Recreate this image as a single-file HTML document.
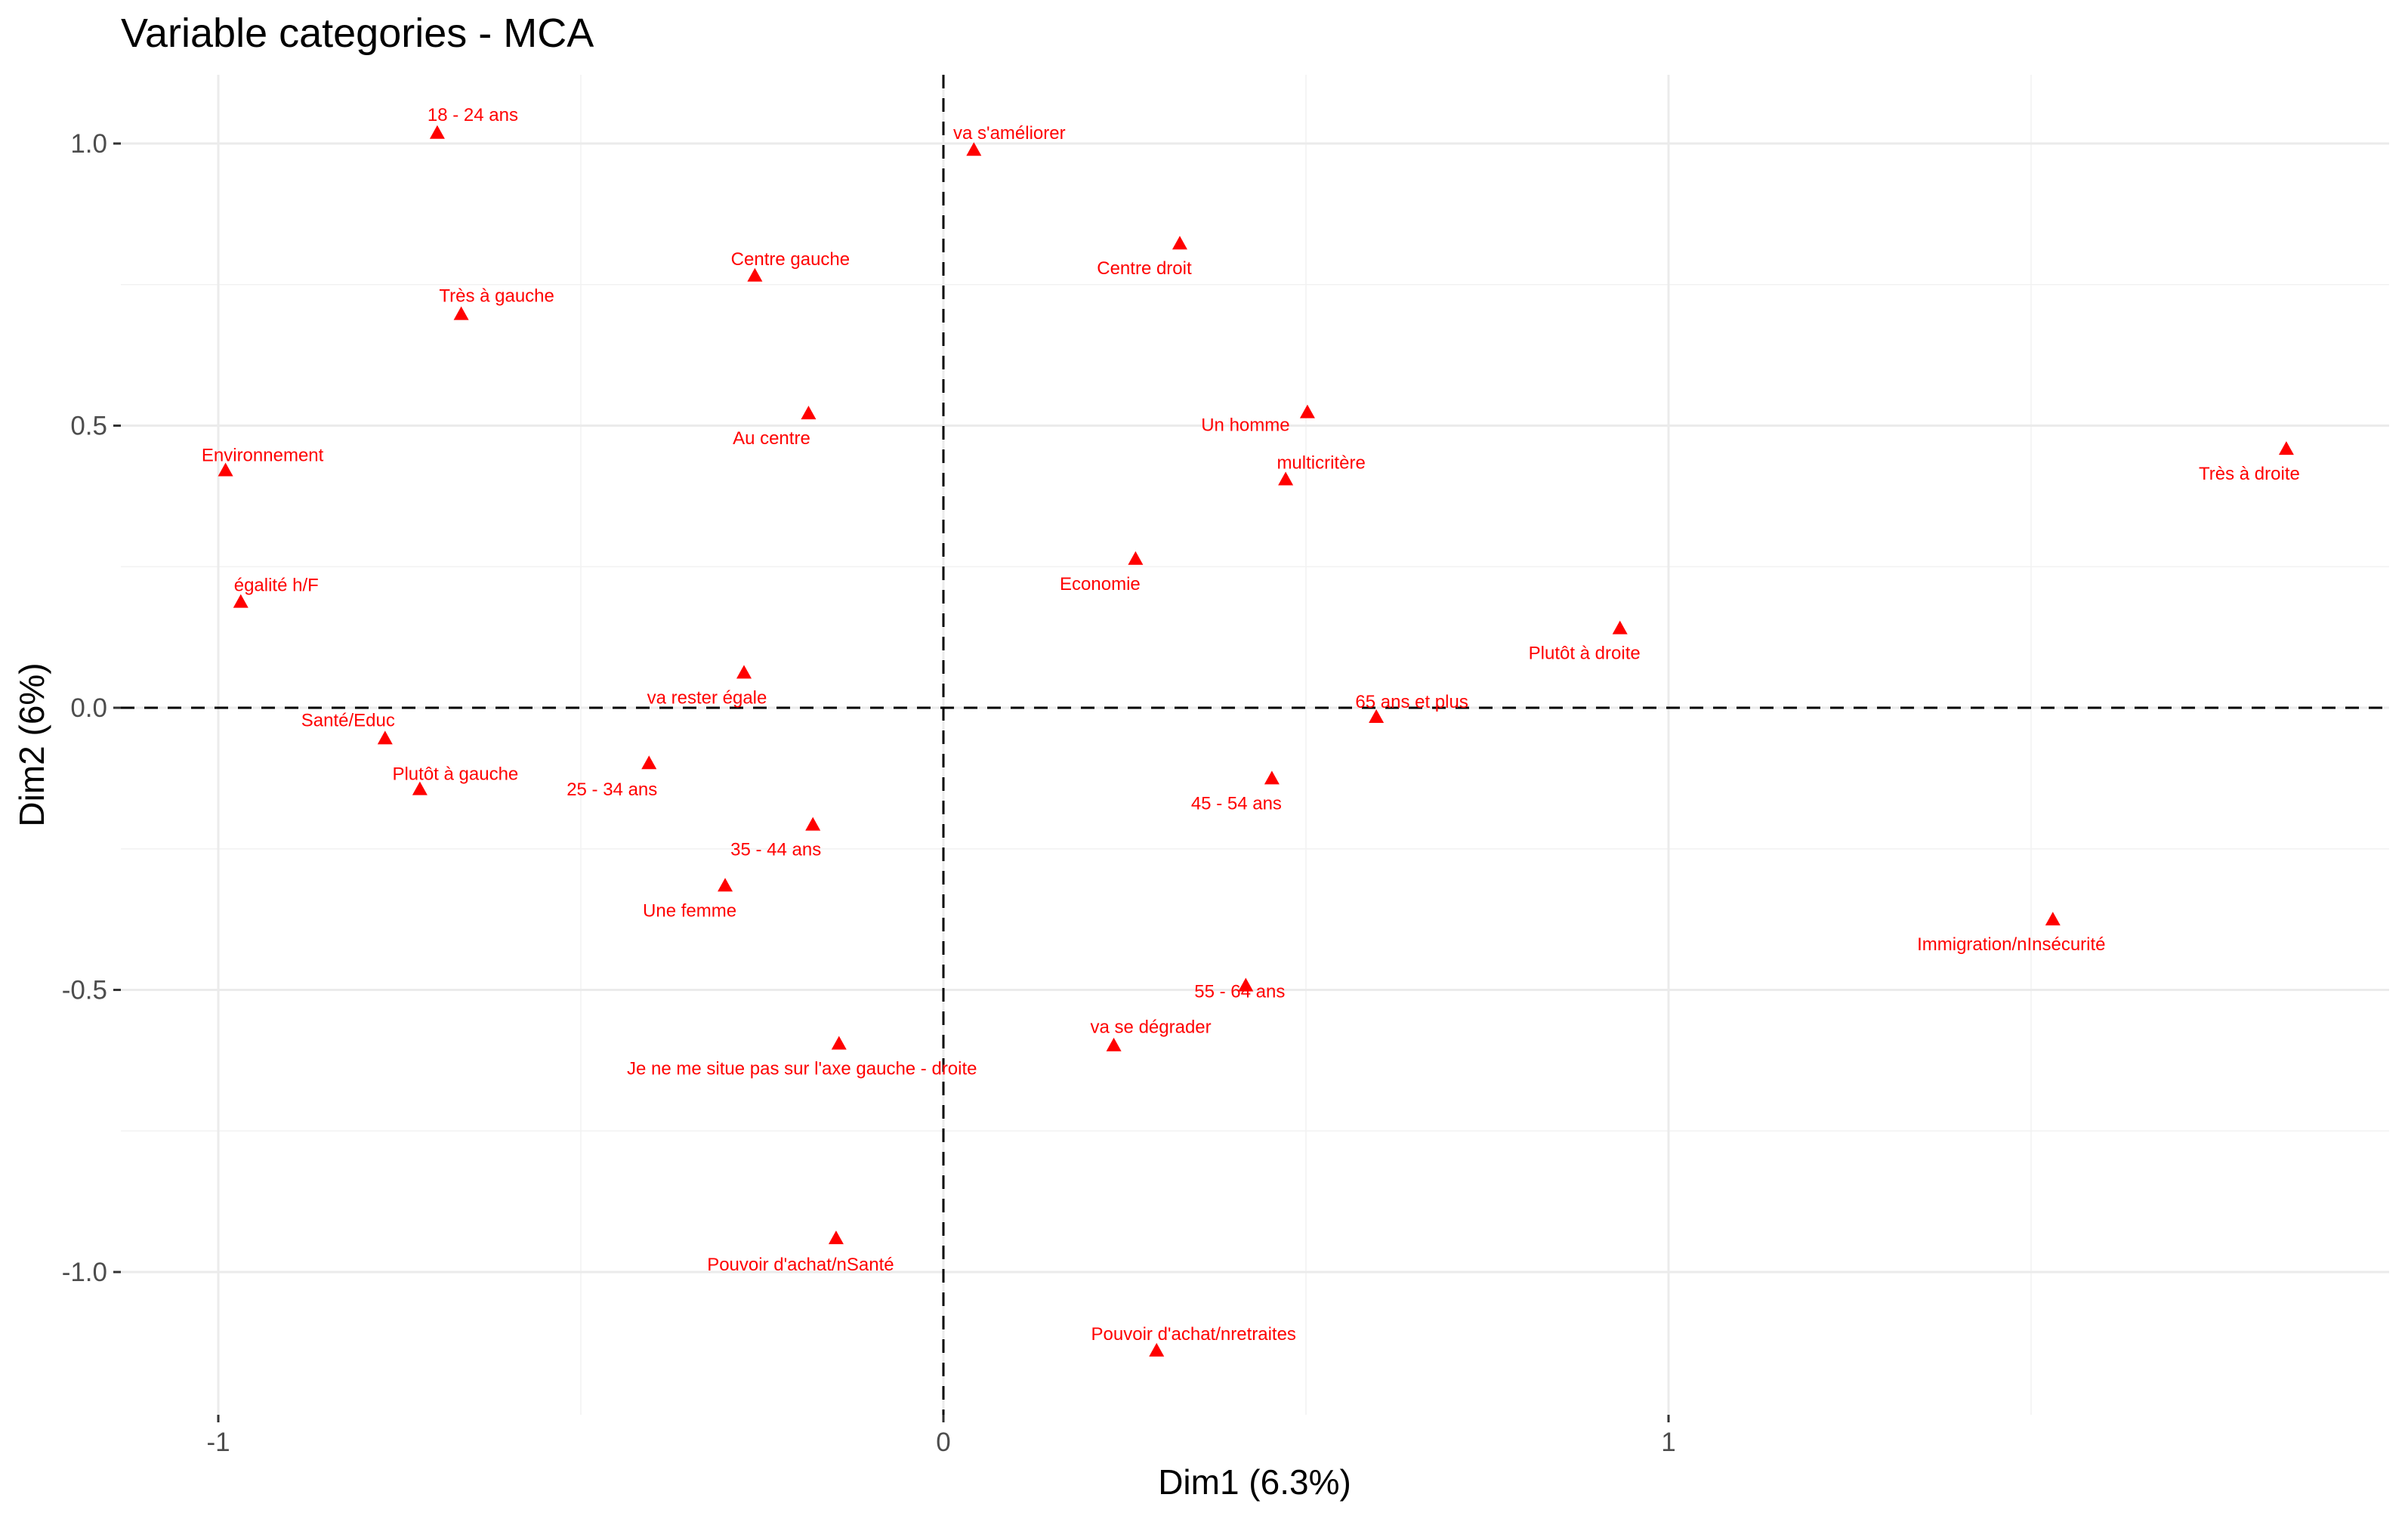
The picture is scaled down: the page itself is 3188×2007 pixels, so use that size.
<!DOCTYPE html>
<html><head><meta charset="utf-8"><style>
html,body{margin:0;padding:0;background:#fff;}
svg{display:block;font-family:"Liberation Sans",Arial,sans-serif;}
</style></head><body>
<svg id="chart" width="3188" height="2007" viewBox="0 0 3188 2007" xmlns="http://www.w3.org/2000/svg">
<text x="160" y="62" font-size="54" fill="#000">Variable categories - MCA</text>
<g id="grid"></g>
<g id="axes"></g>
<g id="points"></g>
<text x="1661" y="1978" font-size="46" text-anchor="middle" fill="#000">Dim1 (6.3%)</text>
<text transform="translate(58,986) rotate(-90)" font-size="46" text-anchor="middle" fill="#000">Dim2 (6%)</text>
</svg>
<script>
const categories = ["18 - 24 ans","va s'améliorer","Centre droit","Centre gauche","Très à gauche","Au centre","Un homme","multicritère","Très à droite","Environnement","Economie","égalité h/F","Plutôt à droite","va rester égale","65 ans et plus","Santé/Educ","25 - 34 ans","Plutôt à gauche","45 - 54 ans","35 - 44 ans","Une femme","Immigration/nInsécurité","55 - 64 ans","Je ne me situe pas sur l'axe gauche - droite","va se dégrader","Pouvoir d'achat/nSanté","Pouvoir d'achat/nretraites"];
const dim1 = [-0.698,0.042,0.326,-0.260,-0.665,-0.186,0.502,0.472,1.852,-0.990,0.265,-0.969,0.933,-0.275,0.597,-0.770,-0.406,-0.722,0.453,-0.180,-0.301,1.530,0.417,-0.144,0.235,-0.148,0.294];
const dim2 = [1.019,0.989,0.823,0.766,0.698,0.522,0.524,0.405,0.459,0.421,0.264,0.188,0.141,0.0625,-0.016,-0.054,-0.098,-0.144,-0.125,-0.207,-0.315,-0.375,-0.492,-0.595,-0.598,-0.940,-1.139];
const xTicks = [-1,0,1];
const xTickLabels = ["-1","0","1"];
const yTicks = [-1,-0.5,0,0.5,1];
const yTickLabels = ["-1.0","-0.5","0.0","0.5","1.0"];
const xMinor = [-0.5,0.5,1.5];
const yMinor = [-0.75,-0.25,0.25,0.75];
// label offsets (layout, px relative to marker)
const labelOffsets = [[47,-24],[47,-22],[-47,33],[47,-22],[47,-24],[-49,33],[-82,17],[47,-22],[-49,33],[49,-20],[-47,33],[47,-22],[-47,33],[-49,33],[47,-20],[-49,-24],[-49,35],[47,-20],[-47,33],[-49,33],[-47,33],[-55,33],[-8,8],[-49,33],[49,-24],[-47,35],[49,-22]];
const NS="http://www.w3.org/2000/svg";
const L=160,R=3163,T=99,B=1873;
const xs=v=>1249+960*v, ys=v=>937-747*v;
function mk(tag,attrs,parent){const e=document.createElementNS(NS,tag);for(const k in attrs)e.setAttribute(k,attrs[k]);parent.appendChild(e);return e;}
const grid=document.getElementById('grid'),axes=document.getElementById('axes'),pts=document.getElementById('points');
xMinor.forEach(v=>{const l=mk('line',{x1:xs(v),x2:xs(v),y1:T,y2:B,stroke:'#F2F2F2','stroke-width':1.5},grid);

});
yMinor.forEach(v=>{const l=mk('line',{x1:L,x2:R,y1:ys(v),y2:ys(v),stroke:'#F2F2F2','stroke-width':1.5},grid);

});
xTicks.forEach((v,i)=>{const l=mk('line',{x1:xs(v),x2:xs(v),y1:T,y2:B,stroke:'#EBEBEB','stroke-width':3},grid);


const tk=mk('line',{x1:xs(v),x2:xs(v),y1:B,y2:B+10,stroke:'#333','stroke-width':3},axes);


const t=mk('text',{x:xs(v),y:B+48,'font-size':35,'text-anchor':'middle',fill:'#4D4D4D'},axes);t.textContent=xTickLabels[i];

});
yTicks.forEach((v,i)=>{const l=mk('line',{x1:L,x2:R,y1:ys(v),y2:ys(v),stroke:'#EBEBEB','stroke-width':3},grid);


const tk=mk('line',{x1:L-10,x2:L,y1:ys(v),y2:ys(v),stroke:'#333','stroke-width':3},axes);


const t=mk('text',{x:L-18,y:ys(v)+12,'font-size':35,'text-anchor':'end',fill:'#4D4D4D'},axes);t.textContent=yTickLabels[i];

});
const h=mk('line',{x1:L,x2:R,y1:ys(0),y2:ys(0),stroke:'#000','stroke-width':3,'stroke-dasharray':'18 13'},axes);


const vz=mk('line',{x1:xs(0),x2:xs(0),y1:T,y2:B,stroke:'#000','stroke-width':3,'stroke-dasharray':'18 13'},axes);


categories.forEach((c,i)=>{const cx=xs(dim1[i]),cy=ys(dim2[i]);
const p=mk('polygon',{points:`${cx-10},${cy+8} ${cx+10},${cy+8} ${cx},${cy-10}`,fill:'#FF0000'},pts);


const o=labelOffsets[i];
const t=mk('text',{x:cx+o[0],y:cy+o[1]+8,'font-size':24,'text-anchor':'middle',fill:'#FF0000'},pts);t.textContent=c;

});
</script>
</body></html>
